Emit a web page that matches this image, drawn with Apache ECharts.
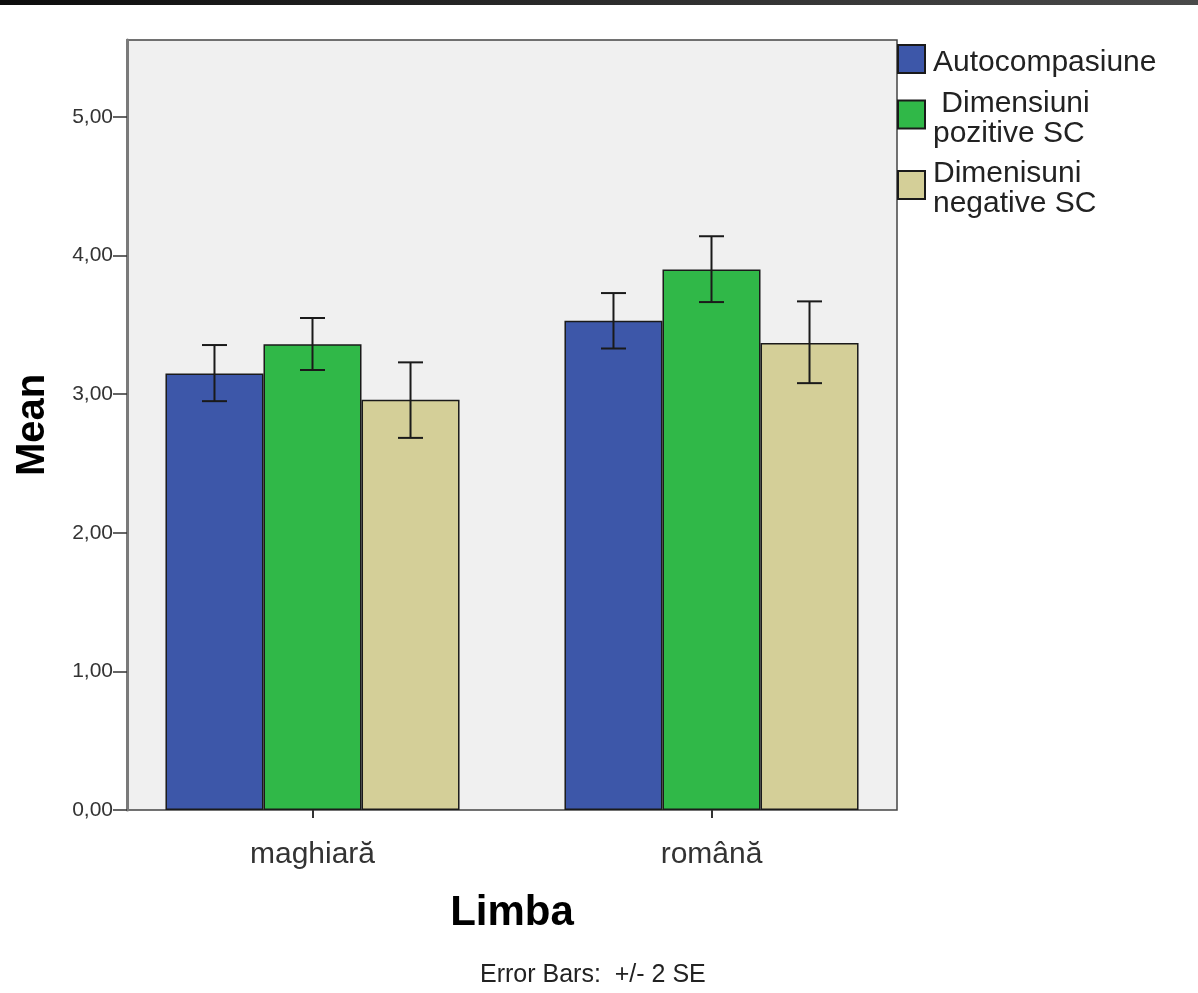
<!DOCTYPE html>
<html>
<head>
<meta charset="utf-8">
<script src="https://cdn.jsdelivr.net/npm/echarts@6/dist/echarts.min.js"></script>
<style>
  html, body { margin: 0; padding: 0; background: #fff; }
  #topbar { position: absolute; left: 0; top: 0; width: 1198px; height: 5px; background: linear-gradient(to right, #0d0d0d, #4a4a4a); z-index: 2; }
  #chart { position: absolute; left: 0; top: 0; width: 1198px; height: 993px; }
</style>
</head>
<body>
<div id="chart"></div>
<div id="topbar"></div>
<script>
const categories = ['maghiară', 'română'];
const seriesNames = ['Autocompasiune', ' Dimensiuni\npozitive SC', 'Dimenisuni\nnegative SC'];
const autocompasiune = [3.15, 3.53];
const dimPozitive = [3.36, 3.90];
const dimNegative = [2.96, 3.37];
const autoLow = [2.95, 3.33];
const autoHigh = [3.355, 3.73];
const pozLow = [3.175, 3.665];
const pozHigh = [3.55, 4.14];
const negLow = [2.685, 3.08];
const negHigh = [3.23, 3.67];
const yTicks = [0, 1, 2, 3, 4, 5];
const yMax = 5.556;
const colors = ['#3d57a9', '#30b848', '#d4cf98'];

const barGapRatio = 0.263;
function errorSeries(idx, low, high) {
  return {
    type: 'custom',
    xAxisIndex: 1, yAxisIndex: 1,
    z: 10,
    data: categories.map((c, i) => [i, low[i], high[i]]),
    encode: { x: 0, y: [1, 2] },
    renderItem: function (params, api) {
      const ci = api.value(0);
      const lo = api.coord([ci, api.value(1)]);
      const hi = api.coord([ci, api.value(2)]);
      const catW = api.size([1, 0])[0];
      const bw = catW * (1 - barGapRatio) / 3;
      const x = lo[0] + (idx - 1) * bw;
      const cap = 12.5;
      const st = { stroke: '#1a1a1a', lineWidth: 2 };
      return {
        type: 'group',
        children: [
          { type: 'line', shape: { x1: x, y1: lo[1], x2: x, y2: hi[1] }, style: st },
          { type: 'line', shape: { x1: x - cap, y1: lo[1], x2: x + cap, y2: lo[1] }, style: st },
          { type: 'line', shape: { x1: x - cap, y1: hi[1], x2: x + cap, y2: hi[1] }, style: st }
        ]
      };
    }
  };
}

const barStyle = (c) => ({ color: c, borderColor: '#1a1a1a', borderWidth: 1.5 });

const chart = echarts.init(document.getElementById('chart'));
chart.setOption({
  animation: false,
  title: {
    text: 'Error Bars:  +/- 2 SE',
    left: 475, top: 958,
    textStyle: { fontFamily: 'Liberation Sans, Arial, sans-serif', fontSize: 25, fontWeight: 'normal', color: '#222' }
  },
  legend: {
    orient: 'vertical',
    left: 897, top: 40, padding: 0,
    itemWidth: 27, itemHeight: 28, itemGap: 2.5,
    icon: 'rect',
    selectedMode: false,
    formatter: (name) => '{s|}\n' + name.split('\n').map(l => '{t|' + l + '}').join('\n'),
    textStyle: {
      fontFamily: 'Liberation Sans, Arial, sans-serif', fontSize: 30, color: '#222', padding: [0, 0, 0, 3],
      rich: {
        s: { lineHeight: 8, fontSize: 8 },
        t: { fontFamily: 'Liberation Sans, Arial, sans-serif', fontSize: 30, color: '#222', lineHeight: 30 }
      }
    },
    data: seriesNames
  },
  grid: [
    { left: 127, right: 301, top: 40, bottom: 183, show: true, backgroundColor: '#f0f0f0', borderColor: '#444', borderWidth: 1.5 },
    { left: 113, right: 287, top: 40, bottom: 183, show: false }
  ],
  xAxis: [
    { type: 'value', gridIndex: 0, show: false, min: 0, max: 1 },
    {
      type: 'category', gridIndex: 1, data: categories,
      axisLine: { show: false },
      axisTick: { show: true, alignWithLabel: true, length: 8, lineStyle: { color: '#333', width: 2 } },
      axisLabel: { fontFamily: 'Liberation Sans, Arial, sans-serif', fontSize: 30, color: '#333', margin: 30 },
      name: 'Limba', nameLocation: 'middle', nameGap: 82,
      nameTextStyle: { fontFamily: 'Liberation Sans, Arial, sans-serif', fontSize: 42, fontWeight: 'bold', color: '#000' }
    }
  ],
  yAxis: [
    {
      type: 'value', gridIndex: 0, min: 0, max: yMax,
      splitLine: { show: false },
      axisLine: { show: true, lineStyle: { color: '#7a7a7a', width: 3 } },
      axisTick: { show: true, length: 14, customValues: yTicks, lineStyle: { color: '#333', width: 1.5 } },
      axisLabel: {
        customValues: yTicks, margin: 14,
        fontFamily: 'Liberation Sans, Arial, sans-serif', fontSize: 21, color: '#333',
        formatter: (v) => v.toFixed(2).replace('.', ',')
      },
      name: 'Mean', nameLocation: 'middle', nameGap: 74,
      nameTextStyle: { fontFamily: 'Liberation Sans, Arial, sans-serif', fontSize: 40, fontWeight: 'bold', color: '#000' }
    },
    { type: 'value', gridIndex: 1, min: 0, max: yMax, show: false, splitLine: { show: false } }
  ],
  series: [
    { name: seriesNames[0], type: 'bar', xAxisIndex: 1, yAxisIndex: 1, data: autocompasiune, barGap: '0%', barCategoryGap: (barGapRatio * 100) + '%', itemStyle: barStyle(colors[0]) },
    { name: seriesNames[1], type: 'bar', xAxisIndex: 1, yAxisIndex: 1, data: dimPozitive, barGap: '0%', barCategoryGap: (barGapRatio * 100) + '%', itemStyle: barStyle(colors[1]) },
    { name: seriesNames[2], type: 'bar', xAxisIndex: 1, yAxisIndex: 1, data: dimNegative, barGap: '0%', barCategoryGap: (barGapRatio * 100) + '%', itemStyle: barStyle(colors[2]) },
    errorSeries(0, autoLow, autoHigh),
    errorSeries(1, pozLow, pozHigh),
    errorSeries(2, negLow, negHigh)
  ]
});
</script>
</body>
</html>
